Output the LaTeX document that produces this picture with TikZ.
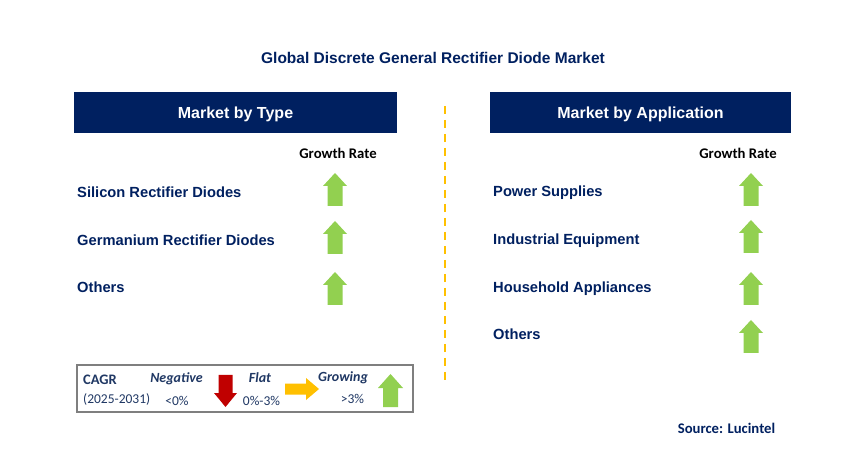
\documentclass[tikz,border=0pt]{standalone}
\usepackage{fontspec}
\setmainfont{Liberation Sans}
\newfontfamily\calibri{Carlito}
\definecolor{navy}{HTML}{002060}
\definecolor{legnavy}{HTML}{203864}
\definecolor{upgreen}{HTML}{92D050}
\definecolor{downred}{HTML}{C00000}
\definecolor{flatyellow}{HTML}{FFC000}
\definecolor{boxgray}{HTML}{7F7F7F}
\tikzset{
  header/.style={fill=navy, text=white, font=\bfseries\fontsize{16}{19}\selectfont, minimum height=41pt, inner sep=0pt, text depth=0pt},
  item/.style={anchor=west, text=navy, font=\bfseries\fontsize{14.7}{17}\selectfont, inner sep=0pt},
  growth/.style={text=black, font=\calibri\bfseries\fontsize{14.7}{17}\selectfont, inner sep=0pt},
  legtext/.style={text=legnavy, font=\calibri\fontsize{13.5}{16}\selectfont, inner sep=0pt},
  legbold/.style={text=legnavy, font=\calibri\bfseries\itshape\fontsize{14}{16}\selectfont, inner sep=0pt},
  uparrowpic/.pic={\fill[upgreen] (0,0) -- (12,13) -- (7.5,13) -- (7.5,33) -- (-7.5,33) -- (-7.5,13) -- (-12,13) -- cycle;},
  downarrowpic/.pic={\fill[downred] (0,0) -- (11.5,-14) -- (7,-14) -- (7,-32) -- (-7,-32) -- (-7,-14) -- (-11.5,-14) -- cycle;},
  rightarrowpic/.pic={\fill[flatyellow] (0,0) -- (-13,-11) -- (-13,-5.5) -- (-34,-5.5) -- (-34,5.5) -- (-13,5.5) -- (-13,11) -- cycle;},
}
\begin{document}
\begin{tikzpicture}[x=1pt,y=-1pt]
\useasboundingbox[fill=white] (0,0) rectangle (855,473);
% title
\node[text=navy, font=\bfseries\fontsize{15.5}{18}\selectfont, inner sep=0pt] (title) at (433,58) {Global Discrete General Rectifier Diode Market};
% headers
\node[header, minimum width=323pt] (htype) at (235.5,112.5) {Market by Type};
\node[header, minimum width=301pt] (happ) at (640.5,112.5) {Market by Application};
% divider
\coordinate (dtop) at (445,106);
\coordinate (dbot) at (445,380);
\draw[flatyellow, line width=2pt, dash pattern=on 8pt off 6pt] (dtop) -- (dbot);
% growth rate labels
\node[growth] (gl) at (338,153) {Growth Rate};
\node[growth] (gr) at (738,153) {Growth Rate};
% left items
\node[item] (l1) at (77,192) {Silicon Rectifier Diodes};
\node[item] (l2) at (77,240) {Germanium Rectifier Diodes};
\node[item] (l3) at (77,287) {Others};
\pic at (335,173) {uparrowpic};
\pic at (335,221) {uparrowpic};
\pic at (335,272) {uparrowpic};
% right items
\node[item] (r1) at (493,193) {Power Supplies};
\node[item] (r2) at (493,241) {Industrial Equipment};
\node[item] (r3) at (493,289) {Household Appliances};
\node[item] (r4) at (493,334.5) {Others};
\pic at (751,173) {uparrowpic};
\pic at (751,220) {uparrowpic};
\pic at (751,272) {uparrowpic};
\pic at (751,320) {uparrowpic};
% legend
\draw[boxgray, line width=1.5pt] (77,365) rectangle (413,412);
\node[legtext, anchor=west, font=\calibri\bfseries\fontsize{14.5}{16}\selectfont] (cagr) at (83,380) {CAGR};
\node[legtext, anchor=west] (years) at (83,399) {(2025-2031)};
\node[legbold] (neg) at (176.5,379) {Negative};
\node[legtext] (negv) at (177,401) {<0\%};
\pic at (225.5,407) {downarrowpic};
\node[legbold] (flat) at (260,378) {Flat};
\node[legtext] (flatv) at (261.5,401) {0\%-3\%};
\pic at (319,389) {rightarrowpic};
\node[legbold] (grow) at (343,378) {Growing};
\node[legtext] (growv) at (352.5,399) {>3\%};
\begin{scope}[shift={(390.5,374)}]
\fill[upgreen] (0,0) -- (12.5,14) -- (7.5,14) -- (7.5,33) -- (-7.5,33) -- (-7.5,14) -- (-12.5,14) -- cycle;
\end{scope}
% source
\node[text=navy, font=\calibri\bfseries\fontsize{14.7}{17}\selectfont, inner sep=0pt] (src) at (726.5,428) {Source: Lucintel};
\end{tikzpicture}
\end{document}
